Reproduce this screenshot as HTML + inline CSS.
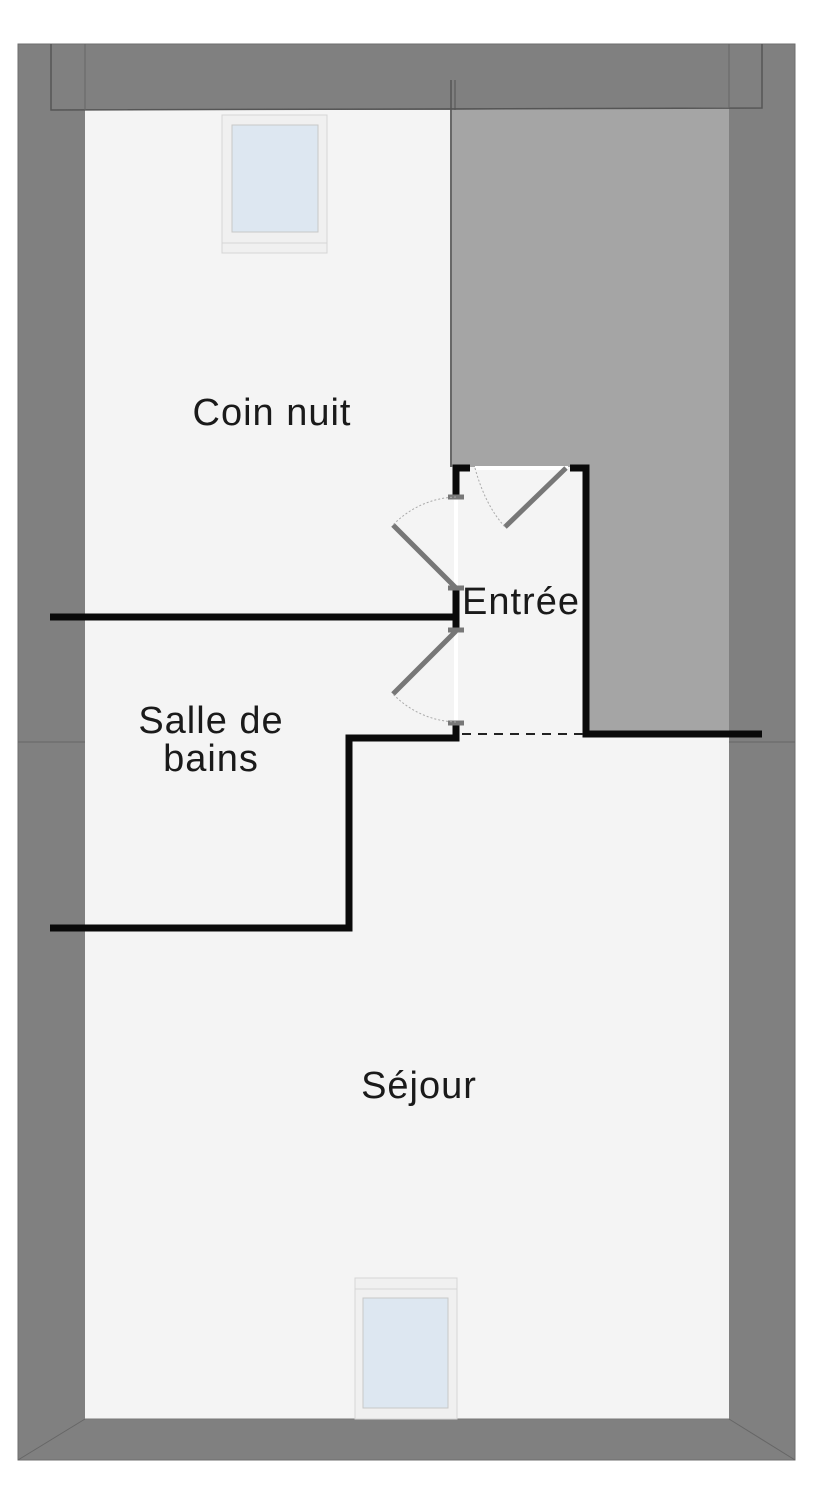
<!DOCTYPE html>
<html><head><meta charset="utf-8"><style>
html,body{margin:0;padding:0;background:#fff;width:840px;height:1496px;overflow:hidden}
svg text{font-family:"Liberation Sans",sans-serif;fill:#1a1a1a;font-size:38px;letter-spacing:1px}
</style></head><body>
<svg width="840" height="1496" viewBox="0 0 840 1496" xmlns="http://www.w3.org/2000/svg">
<rect x="18" y="44" width="777" height="1416" fill="#808080" stroke="#6e6e6e" stroke-width="1"/>
<rect x="85" y="110" width="644" height="1309" fill="#f4f4f4"/>
<polygon points="450,110 729,107 729,735 585,735 585,467 450,467" fill="#a5a5a5"/>
<line x1="451" y1="80" x2="451" y2="467" stroke="#555" stroke-width="1.5"/>
<line x1="455" y1="80" x2="455" y2="110" stroke="#555" stroke-width="1"/>
<polyline points="51,44 51,110 762,108 762,44" fill="none" stroke="#555" stroke-width="1.5"/>
<line x1="85" y1="44" x2="85" y2="110" stroke="#666" stroke-width="1"/>
<line x1="729" y1="44" x2="729" y2="108" stroke="#666" stroke-width="1"/>
<line x1="18" y1="1460" x2="85" y2="1419" stroke="#666" stroke-width="1"/>
<line x1="795" y1="1460" x2="729" y2="1419" stroke="#666" stroke-width="1"/>
<line x1="85" y1="1419" x2="729" y2="1419" stroke="#777" stroke-width="1"/>
<line x1="18" y1="742" x2="85" y2="742" stroke="#666" stroke-width="1"/>
<line x1="729" y1="742" x2="795" y2="742" stroke="#666" stroke-width="1"/>
<rect x="222" y="115" width="105" height="138" fill="#f0f0f0" stroke="#d6d6d6"/>
<rect x="232" y="125" width="86" height="107" fill="#dde7f1" stroke="#c8c8c8"/>
<line x1="222" y1="243" x2="327" y2="243" stroke="#d6d6d6"/>
<rect x="355" y="1278" width="102" height="141" fill="#f0f0f0" stroke="#d6d6d6"/>
<rect x="363" y="1298" width="85" height="110" fill="#dde7f1" stroke="#c8c8c8"/>
<line x1="355" y1="1289" x2="457" y2="1289" stroke="#d6d6d6"/>
<g stroke="#0a0a0a" stroke-width="7" fill="none">
<line x1="50" y1="617" x2="456" y2="617"/>
<polyline points="50,928 349,928 349,738 456,738 456,722"/>
<polyline points="456,497 456,468 470,468"/>
<line x1="456" y1="588" x2="456" y2="630"/>
<polyline points="570,468 586,468 586,734 762,734"/>
</g>
<line x1="462" y1="734" x2="584" y2="734" stroke="#222" stroke-width="2" stroke-dasharray="9,7"/>
<line x1="456" y1="497" x2="456" y2="588" stroke="#fff" stroke-width="4"/>
<line x1="456" y1="630" x2="456" y2="722" stroke="#fff" stroke-width="4"/>
<line x1="475" y1="468" x2="568" y2="468" stroke="#fff" stroke-width="4"/>
<g stroke="#777" stroke-width="5" stroke-linecap="butt">
<line x1="448" y1="497" x2="464" y2="497"/><line x1="448" y1="588" x2="464" y2="588"/>
<line x1="448" y1="630" x2="464" y2="630"/><line x1="448" y1="723" x2="464" y2="723"/>
<line x1="393" y1="525" x2="456" y2="588"/>
<line x1="393" y1="694" x2="456" y2="631"/>
<line x1="505" y1="527" x2="566" y2="468"/>
</g>
<g stroke="#aaa" stroke-width="1" stroke-dasharray="2,2" fill="none">
<path d="M456,497 A91,91 0 0 0 393,525"/>
<path d="M456,722 A91,91 0 0 1 393,694"/>
<path d="M475,468 Q485,505 505,527"/>
</g>
<text x="272" y="425" text-anchor="middle">Coin nuit</text>
<text x="211" y="733" text-anchor="middle">Salle de</text>
<text x="211" y="771" text-anchor="middle">bains</text>
<text x="521" y="614" text-anchor="middle">Entrée</text>
<text x="419" y="1098" text-anchor="middle">Séjour</text>
</svg>
</body></html>
